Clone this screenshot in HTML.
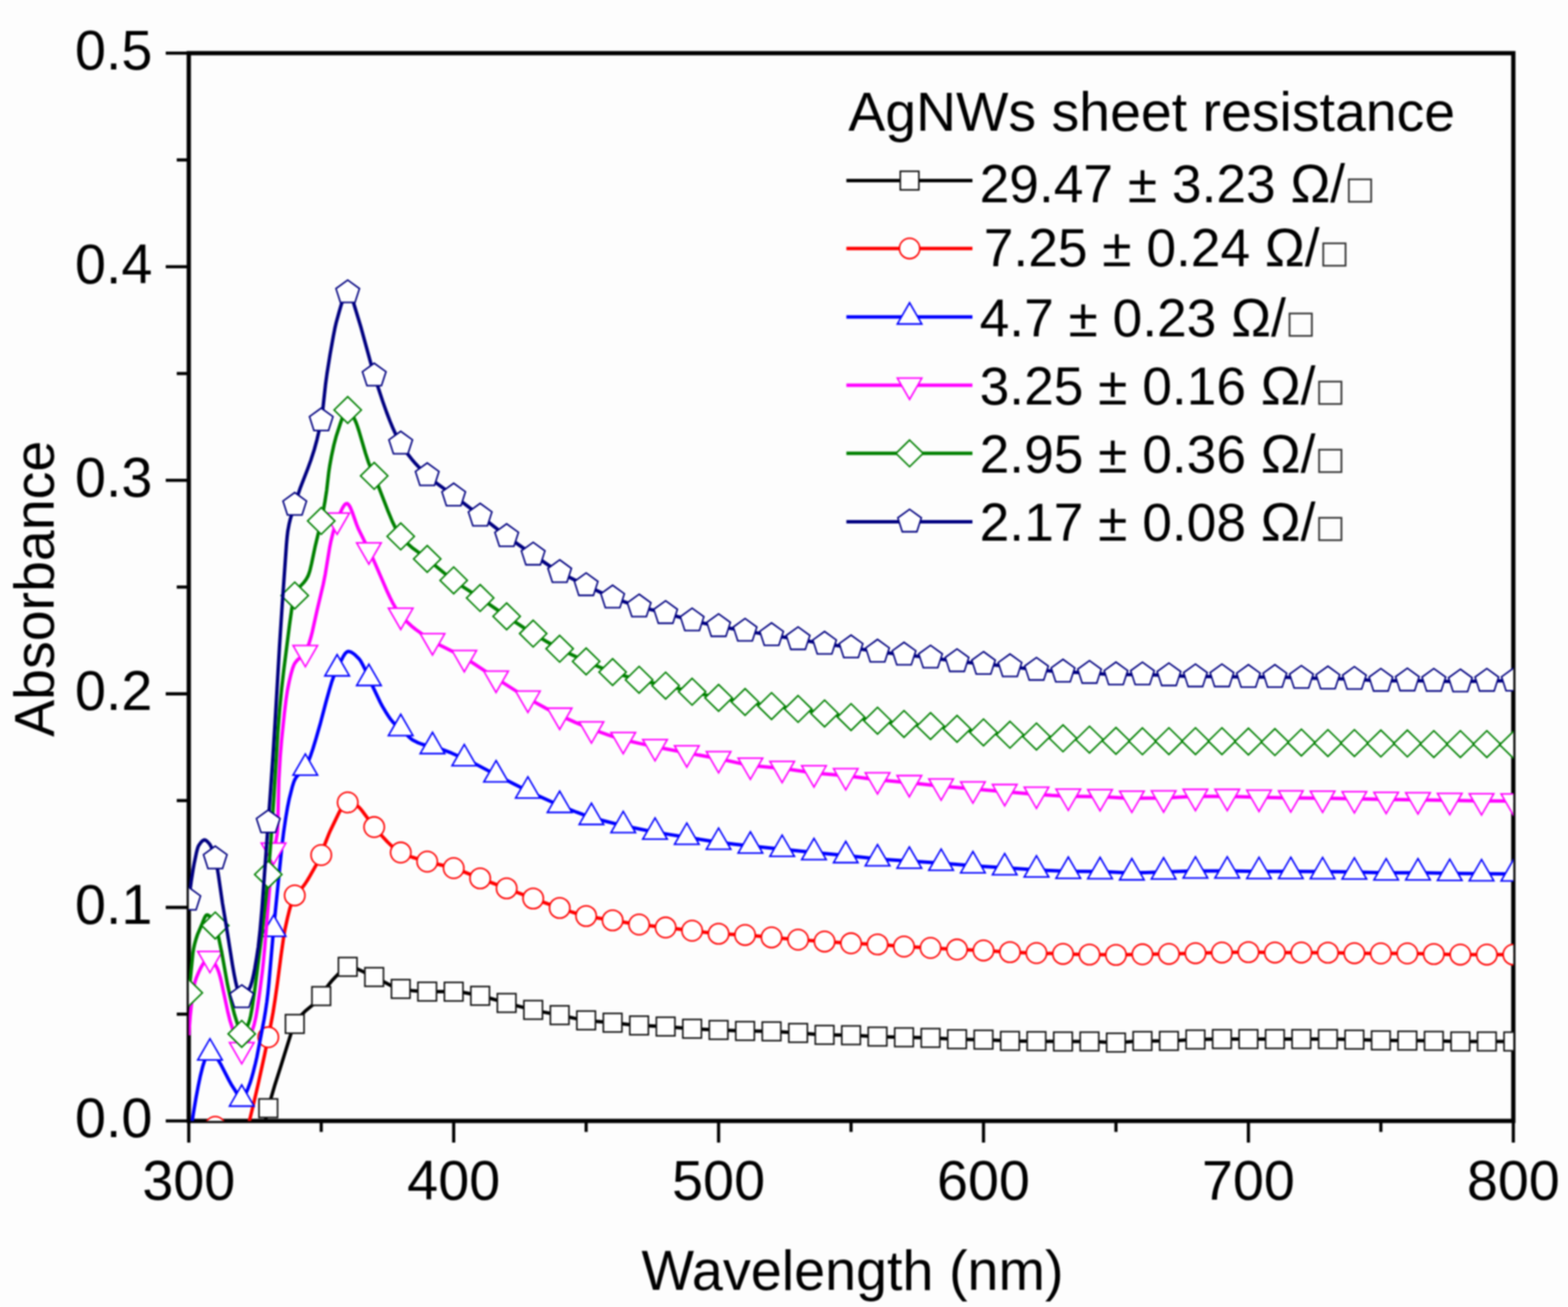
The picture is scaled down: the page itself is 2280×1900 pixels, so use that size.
<!DOCTYPE html><html><head><meta charset="utf-8"><style>html,body{margin:0;padding:0;background:#fdfdfd;}svg{display:block;filter:blur(1.15px);}text{font-family:"Liberation Sans",Arial,sans-serif;fill:#000;}</style></head><body>
<svg width="2280" height="1900" viewBox="0 0 2280 1900">
<rect width="2280" height="1900" fill="#fdfdfd"/>
<defs><clipPath id="pc"><rect x="274.5" y="77.3" width="1926.0" height="1552.2"/></clipPath></defs>
<g stroke="#000" stroke-width="6.2" fill="none" stroke-linecap="square">
<rect x="274.5" y="77.3" width="1926.0" height="1552.2"/>
</g>
<g stroke="#000" stroke-width="4.6" fill="none">
<path d="M241.0 1629.5H274.5"/>
<path d="M241.0 1319.1H274.5"/>
<path d="M241.0 1008.6H274.5"/>
<path d="M241.0 698.2H274.5"/>
<path d="M241.0 387.7H274.5"/>
<path d="M241.0 77.3H274.5"/>
<path d="M257.0 1474.3H274.5"/>
<path d="M257.0 1163.8H274.5"/>
<path d="M257.0 853.4H274.5"/>
<path d="M257.0 543.0H274.5"/>
<path d="M257.0 232.5H274.5"/>
<path d="M274.5 1629.5V1661.0"/>
<path d="M659.7 1629.5V1661.0"/>
<path d="M1044.9 1629.5V1661.0"/>
<path d="M1430.1 1629.5V1661.0"/>
<path d="M1815.3 1629.5V1661.0"/>
<path d="M2200.5 1629.5V1661.0"/>
<path d="M467.1 1629.5V1645.5"/>
<path d="M852.3 1629.5V1645.5"/>
<path d="M1237.5 1629.5V1645.5"/>
<path d="M1622.7 1629.5V1645.5"/>
<path d="M2007.9 1629.5V1645.5"/>
</g>
<g font-size="81">
<text x="221.5" y="1653.3" text-anchor="end">0.0</text>
<text x="221.5" y="1342.9" text-anchor="end">0.1</text>
<text x="221.5" y="1032.4" text-anchor="end">0.2</text>
<text x="221.5" y="722.0" text-anchor="end">0.3</text>
<text x="221.5" y="411.5" text-anchor="end">0.4</text>
<text x="221.5" y="101.1" text-anchor="end">0.5</text>
<text x="274.5" y="1744.3" text-anchor="middle">300</text>
<text x="659.7" y="1744.3" text-anchor="middle">400</text>
<text x="1044.9" y="1744.3" text-anchor="middle">500</text>
<text x="1430.1" y="1744.3" text-anchor="middle">600</text>
<text x="1815.3" y="1744.3" text-anchor="middle">700</text>
<text x="2200.5" y="1744.3" text-anchor="middle">800</text>
</g>
<text x="1239.5" y="1874.6" font-size="81" text-anchor="middle">Wavelength (nm)</text>
<text transform="translate(77.5 856) rotate(-90)" font-size="80.7" text-anchor="middle">Absorbance</text>
<g clip-path="url(#pc)">
<path d="M274.5 1800.0L314.5 1800.0L319.5 1799.7L325.0 1799.0L330.0 1797.9L335.0 1796.6L340.0 1794.9L345.0 1793.0L352.0 1789.7L353.0 1788.8L354.5 1786.6L356.5 1782.2L359.0 1774.6L361.5 1765.1L364.5 1751.3L370.0 1721.6L382.5 1647.5L386.0 1629.1L389.5 1613.2L393.5 1598.2L399.5 1577.8L408.5 1549.5L423.0 1502.9L426.0 1494.1L428.0 1489.5L430.5 1485.4L434.0 1480.4L437.5 1476.2L443.5 1470.2L456.5 1459.3L462.0 1454.0L465.0 1450.6L468.0 1446.8L474.0 1437.0L476.0 1434.0L480.0 1428.9L483.5 1424.7L487.0 1421.0L499.0 1408.8L502.0 1406.6L503.5 1405.9L505.0 1405.5L508.5 1405.7L512.5 1406.3L516.5 1407.5L521.0 1409.2L526.5 1411.7L539.5 1418.2L549.5 1422.8L569.5 1433.2L576.0 1435.9L581.5 1437.4L598.5 1439.9L612.5 1441.2L620.5 1441.5L661.5 1441.6L667.5 1442.0L674.0 1442.8L684.5 1444.8L706.5 1449.5L733.5 1457.1L754.5 1462.8L773.5 1467.7L787.0 1470.6L815.5 1476.0L841.5 1481.6L849.5 1482.9L857.5 1483.9L890.5 1486.7L917.5 1489.7L928.5 1490.6L969.0 1492.4L1003.0 1495.3L1026.5 1496.5L1076.0 1498.5L1119.0 1499.2L1131.5 1499.7L1162.5 1501.7L1185.0 1503.6L1195.0 1504.3L1240.5 1505.0L1275.5 1506.9L1353.5 1508.8L1390.0 1510.7L1432.0 1511.4L1458.5 1512.8L1467.5 1513.2L1540.5 1514.0L1586.5 1514.0L1595.0 1514.3L1614.0 1515.4L1623.5 1515.6L1632.5 1515.2L1649.5 1513.8L1657.0 1513.4L1703.5 1513.1L1711.5 1512.8L1734.0 1511.3L1758.5 1510.7L1776.0 1510.5L1931.5 1510.5L1950.5 1510.8L2004.5 1512.3L2084.5 1513.1L2118.5 1514.0L2200.5 1514.0" fill="none" stroke="#000000" stroke-width="5.0" stroke-linejoin="round"/>
<g fill="#fff" stroke="#111111" stroke-width="2.3">
<rect x="261.0" y="1786.5" width="27.0" height="27.0"/>
<rect x="299.5" y="1786.5" width="27.0" height="27.0"/>
<rect x="338.0" y="1776.5" width="27.0" height="27.0"/>
<rect x="376.6" y="1597.5" width="27.0" height="27.0"/>
<rect x="415.1" y="1475.0" width="27.0" height="27.0"/>
<rect x="453.6" y="1434.5" width="27.0" height="27.0"/>
<rect x="492.1" y="1392.0" width="27.0" height="27.0"/>
<rect x="530.6" y="1406.8" width="27.0" height="27.0"/>
<rect x="569.2" y="1424.1" width="27.0" height="27.0"/>
<rect x="607.7" y="1428.0" width="27.0" height="27.0"/>
<rect x="646.2" y="1428.1" width="27.0" height="27.0"/>
<rect x="684.7" y="1434.1" width="27.0" height="27.0"/>
<rect x="723.2" y="1444.5" width="27.0" height="27.0"/>
<rect x="761.8" y="1454.6" width="27.0" height="27.0"/>
<rect x="800.3" y="1462.2" width="27.0" height="27.0"/>
<rect x="838.8" y="1469.8" width="27.0" height="27.0"/>
<rect x="877.3" y="1473.2" width="27.0" height="27.0"/>
<rect x="915.8" y="1477.2" width="27.0" height="27.0"/>
<rect x="954.4" y="1478.8" width="27.0" height="27.0"/>
<rect x="992.9" y="1482.0" width="27.0" height="27.0"/>
<rect x="1031.4" y="1483.8" width="27.0" height="27.0"/>
<rect x="1069.9" y="1485.2" width="27.0" height="27.0"/>
<rect x="1108.4" y="1485.8" width="27.0" height="27.0"/>
<rect x="1147.0" y="1488.1" width="27.0" height="27.0"/>
<rect x="1185.5" y="1490.9" width="27.0" height="27.0"/>
<rect x="1224.0" y="1491.4" width="27.0" height="27.0"/>
<rect x="1262.5" y="1493.4" width="27.0" height="27.0"/>
<rect x="1301.0" y="1494.4" width="27.0" height="27.0"/>
<rect x="1339.6" y="1495.3" width="27.0" height="27.0"/>
<rect x="1378.1" y="1497.2" width="27.0" height="27.0"/>
<rect x="1416.6" y="1497.8" width="27.0" height="27.0"/>
<rect x="1455.1" y="1499.7" width="27.0" height="27.0"/>
<rect x="1493.6" y="1500.0" width="27.0" height="27.0"/>
<rect x="1532.2" y="1500.5" width="27.0" height="27.0"/>
<rect x="1570.7" y="1500.5" width="27.0" height="27.0"/>
<rect x="1609.2" y="1502.1" width="27.0" height="27.0"/>
<rect x="1647.7" y="1499.8" width="27.0" height="27.0"/>
<rect x="1686.2" y="1499.7" width="27.0" height="27.0"/>
<rect x="1724.8" y="1497.6" width="27.0" height="27.0"/>
<rect x="1763.3" y="1497.0" width="27.0" height="27.0"/>
<rect x="1801.8" y="1497.0" width="27.0" height="27.0"/>
<rect x="1840.3" y="1497.0" width="27.0" height="27.0"/>
<rect x="1878.8" y="1497.0" width="27.0" height="27.0"/>
<rect x="1917.4" y="1497.0" width="27.0" height="27.0"/>
<rect x="1955.9" y="1497.8" width="27.0" height="27.0"/>
<rect x="1994.4" y="1498.9" width="27.0" height="27.0"/>
<rect x="2032.9" y="1499.2" width="27.0" height="27.0"/>
<rect x="2071.4" y="1499.6" width="27.0" height="27.0"/>
<rect x="2110.0" y="1500.5" width="27.0" height="27.0"/>
<rect x="2148.5" y="1500.5" width="27.0" height="27.0"/>
<rect x="2187.0" y="1500.5" width="27.0" height="27.0"/>
</g>
<path d="M274.5 1650.0L278.5 1646.8L283.0 1643.9L287.5 1641.8L292.0 1640.2L297.0 1639.1L302.5 1638.4L311.0 1638.0L313.5 1638.0L315.0 1638.2L317.0 1639.0L319.0 1640.1L321.0 1641.6L323.5 1643.8L328.0 1648.8L338.5 1661.5L341.5 1664.6L344.0 1666.8L347.5 1669.0L349.0 1669.6L350.5 1669.9L352.0 1669.9L352.5 1669.5L353.5 1667.8L355.0 1663.7L356.5 1658.0L362.0 1632.2L369.0 1603.5L375.5 1575.5L384.5 1534.4L393.5 1490.9L397.0 1472.0L400.0 1453.0L403.5 1428.4L408.5 1390.0L413.0 1358.5L414.5 1350.4L418.0 1334.5L420.5 1324.3L423.0 1315.5L426.0 1306.9L428.5 1301.8L430.0 1299.7L432.0 1297.4L439.0 1290.9L443.5 1285.0L447.0 1279.6L450.5 1273.8L462.5 1252.5L465.5 1246.6L467.5 1242.0L472.0 1228.0L478.0 1212.8L481.0 1206.1L492.0 1183.3L496.0 1175.8L499.0 1171.2L500.5 1169.4L502.0 1168.0L503.5 1167.0L505.0 1166.5L506.5 1166.5L508.5 1166.8L512.5 1168.1L518.5 1171.1L520.5 1172.3L522.0 1173.5L524.0 1175.6L526.0 1178.0L543.5 1201.5L556.0 1215.9L563.5 1224.0L570.5 1230.7L576.5 1235.5L582.0 1239.0L589.5 1242.5L599.0 1246.0L611.5 1249.8L627.5 1254.2L653.5 1260.3L659.5 1261.9L665.0 1263.7L674.5 1267.3L697.5 1276.6L774.5 1305.8L805.5 1317.1L829.0 1325.0L838.5 1328.0L849.5 1331.0L861.0 1333.3L890.0 1337.8L917.0 1342.2L929.5 1344.0L970.0 1348.6L1038.0 1356.8L1050.0 1357.7L1076.5 1358.8L1088.0 1359.5L1136.5 1364.0L1167.5 1366.5L1232.5 1371.0L1279.0 1373.1L1308.0 1375.5L1319.5 1376.3L1353.5 1378.0L1388.0 1380.1L1430.5 1381.7L1465.0 1383.9L1489.0 1384.9L1563.5 1387.2L1619.0 1388.1L1632.0 1388.0L1660.0 1387.3L1701.0 1386.7L1771.5 1384.8L1815.0 1384.1L1850.5 1384.7L1932.0 1384.9L1965.5 1385.6L1991.0 1385.9L2051.5 1386.0L2118.5 1387.7L2200.5 1387.7" fill="none" stroke="#ff0000" stroke-width="5.0" stroke-linejoin="round"/>
<g fill="#fff" stroke="#ff0000" stroke-width="2.3">
<circle cx="274.5" cy="1650.0" r="14.8"/>
<circle cx="313.0" cy="1638.0" r="14.8"/>
<circle cx="351.5" cy="1670.0" r="14.8"/>
<circle cx="390.1" cy="1507.8" r="14.8"/>
<circle cx="428.6" cy="1301.7" r="14.8"/>
<circle cx="467.1" cy="1243.0" r="14.8"/>
<circle cx="505.6" cy="1166.5" r="14.8"/>
<circle cx="544.1" cy="1202.3" r="14.8"/>
<circle cx="582.7" cy="1239.3" r="14.8"/>
<circle cx="621.2" cy="1252.5" r="14.8"/>
<circle cx="659.7" cy="1262.0" r="14.8"/>
<circle cx="698.2" cy="1276.9" r="14.8"/>
<circle cx="736.7" cy="1291.4" r="14.8"/>
<circle cx="775.3" cy="1306.1" r="14.8"/>
<circle cx="813.8" cy="1319.9" r="14.8"/>
<circle cx="852.3" cy="1331.6" r="14.8"/>
<circle cx="890.8" cy="1337.9" r="14.8"/>
<circle cx="929.3" cy="1344.0" r="14.8"/>
<circle cx="967.9" cy="1348.3" r="14.8"/>
<circle cx="1006.4" cy="1353.0" r="14.8"/>
<circle cx="1044.9" cy="1357.4" r="14.8"/>
<circle cx="1083.4" cy="1359.2" r="14.8"/>
<circle cx="1121.9" cy="1362.7" r="14.8"/>
<circle cx="1160.5" cy="1366.0" r="14.8"/>
<circle cx="1199.0" cy="1368.7" r="14.8"/>
<circle cx="1237.5" cy="1371.3" r="14.8"/>
<circle cx="1276.0" cy="1372.9" r="14.8"/>
<circle cx="1314.5" cy="1376.0" r="14.8"/>
<circle cx="1353.1" cy="1378.0" r="14.8"/>
<circle cx="1391.6" cy="1380.3" r="14.8"/>
<circle cx="1430.1" cy="1381.7" r="14.8"/>
<circle cx="1468.6" cy="1384.1" r="14.8"/>
<circle cx="1507.1" cy="1385.5" r="14.8"/>
<circle cx="1545.7" cy="1386.7" r="14.8"/>
<circle cx="1584.2" cy="1387.6" r="14.8"/>
<circle cx="1622.7" cy="1388.1" r="14.8"/>
<circle cx="1661.2" cy="1387.3" r="14.8"/>
<circle cx="1699.7" cy="1386.7" r="14.8"/>
<circle cx="1738.3" cy="1385.7" r="14.8"/>
<circle cx="1776.8" cy="1384.7" r="14.8"/>
<circle cx="1815.3" cy="1384.1" r="14.8"/>
<circle cx="1853.8" cy="1384.7" r="14.8"/>
<circle cx="1892.3" cy="1384.7" r="14.8"/>
<circle cx="1930.9" cy="1384.9" r="14.8"/>
<circle cx="1969.4" cy="1385.7" r="14.8"/>
<circle cx="2007.9" cy="1386.0" r="14.8"/>
<circle cx="2046.4" cy="1386.0" r="14.8"/>
<circle cx="2084.9" cy="1386.9" r="14.8"/>
<circle cx="2123.5" cy="1387.7" r="14.8"/>
<circle cx="2162.0" cy="1387.7" r="14.8"/>
<circle cx="2200.5" cy="1387.7" r="14.8"/>
</g>
<path d="M277.0 1645.0L281.5 1616.6L285.0 1596.0L288.5 1577.4L291.5 1563.3L294.5 1551.3L297.5 1541.8L299.0 1538.0L300.5 1535.0L302.0 1532.7L303.0 1531.6L304.0 1530.9L305.0 1530.6L306.5 1530.7L308.5 1531.4L310.0 1532.4L312.0 1534.1L315.5 1538.3L318.5 1542.9L321.5 1548.1L333.0 1570.5L337.0 1577.7L342.0 1585.4L347.0 1593.8L348.5 1595.8L350.0 1597.2L351.5 1597.7L352.5 1597.4L353.5 1596.6L355.0 1594.5L357.0 1590.6L360.5 1582.7L363.5 1574.7L365.5 1568.3L368.0 1559.3L371.5 1545.5L373.5 1536.7L384.0 1482.0L386.0 1470.1L388.0 1456.5L389.5 1444.2L391.0 1429.2L398.0 1348.5L410.0 1229.2L412.5 1209.3L415.5 1188.8L418.0 1174.1L420.5 1161.7L425.0 1143.8L427.0 1137.4L428.5 1133.7L430.5 1130.3L432.5 1127.8L434.5 1125.8L440.5 1120.8L442.5 1118.6L444.0 1116.6L446.5 1111.7L451.0 1100.2L455.0 1088.5L459.5 1073.7L465.5 1052.8L474.0 1020.5L479.0 1002.6L482.5 990.9L485.5 982.6L489.0 974.6L499.0 954.5L501.0 951.3L502.5 949.3L504.5 947.6L506.0 947.0L507.5 947.1L509.5 947.6L511.5 948.5L514.0 950.2L517.0 952.7L521.5 957.1L523.0 958.9L524.5 961.1L527.5 966.4L531.5 974.5L538.0 989.7L553.0 1021.1L556.0 1026.7L560.5 1034.3L564.5 1040.6L567.5 1045.0L570.5 1048.8L573.5 1052.0L575.5 1053.7L581.0 1057.7L583.5 1059.7L586.5 1062.7L595.0 1071.7L597.5 1073.9L600.0 1075.7L607.0 1079.3L614.0 1082.0L618.5 1083.2L627.0 1084.8L631.0 1085.7L637.5 1087.6L644.0 1089.8L656.5 1094.7L676.0 1103.2L690.5 1110.1L717.0 1124.1L747.5 1139.8L770.5 1151.2L788.5 1159.6L803.5 1166.3L823.0 1174.5L838.5 1180.7L848.5 1184.4L857.5 1187.4L867.5 1190.4L879.0 1193.5L893.5 1197.1L912.0 1201.4L928.0 1204.8L943.5 1207.9L972.0 1212.9L1029.0 1222.0L1048.5 1224.8L1068.0 1227.2L1095.5 1230.3L1181.0 1239.1L1230.5 1243.8L1268.5 1247.7L1288.0 1249.4L1369.0 1254.8L1417.0 1258.7L1462.0 1261.5L1498.5 1264.1L1521.0 1265.3L1550.5 1266.4L1603.0 1267.1L1632.5 1268.4L1644.0 1268.7L1665.0 1268.4L1730.5 1266.2L1786.0 1266.1L1826.5 1266.8L1887.5 1266.8L1946.0 1267.3L1973.5 1267.7L2010.5 1268.8L2067.5 1268.8L2122.5 1269.8L2200.5 1270.4" fill="none" stroke="#0000ff" stroke-width="5.0" stroke-linejoin="round"/>
<g fill="#fff" stroke="#0000ff" stroke-width="2.3">
<path d="M305.3 1510.0L323.2 1540.9L287.5 1540.9Z"/>
<path d="M351.5 1577.1L369.4 1608.0L333.7 1608.0Z"/>
<path d="M397.8 1330.3L415.6 1361.2L379.9 1361.2Z"/>
<path d="M444.0 1096.0L461.8 1126.9L426.1 1126.9Z"/>
<path d="M490.2 951.6L508.1 982.5L472.4 982.5Z"/>
<path d="M536.4 965.6L554.3 996.5L518.6 996.5Z"/>
<path d="M582.7 1038.4L600.5 1069.3L564.8 1069.3Z"/>
<path d="M628.9 1064.6L646.7 1095.5L611.0 1095.5Z"/>
<path d="M675.1 1082.2L692.9 1113.1L657.3 1113.1Z"/>
<path d="M721.3 1105.7L739.2 1136.6L703.5 1136.6Z"/>
<path d="M767.6 1129.2L785.4 1160.1L749.7 1160.1Z"/>
<path d="M813.8 1150.1L831.6 1181.0L795.9 1181.0Z"/>
<path d="M860.0 1167.6L877.8 1198.5L842.2 1198.5Z"/>
<path d="M906.2 1179.5L924.1 1210.4L888.4 1210.4Z"/>
<path d="M952.5 1189.0L970.3 1219.9L934.6 1219.9Z"/>
<path d="M998.7 1196.5L1016.5 1227.4L980.8 1227.4Z"/>
<path d="M1044.9 1203.7L1062.7 1234.6L1027.1 1234.6Z"/>
<path d="M1091.1 1209.2L1109.0 1240.1L1073.3 1240.1Z"/>
<path d="M1137.3 1214.0L1155.2 1244.9L1119.5 1244.9Z"/>
<path d="M1183.6 1218.8L1201.4 1249.7L1165.7 1249.7Z"/>
<path d="M1229.8 1223.1L1247.6 1254.0L1212.0 1254.0Z"/>
<path d="M1276.0 1227.8L1293.9 1258.7L1258.2 1258.7Z"/>
<path d="M1322.2 1231.2L1340.1 1262.1L1304.4 1262.1Z"/>
<path d="M1368.5 1234.2L1386.3 1265.1L1350.6 1265.1Z"/>
<path d="M1414.7 1237.9L1432.5 1268.8L1396.9 1268.8Z"/>
<path d="M1460.9 1240.8L1478.8 1271.7L1443.1 1271.7Z"/>
<path d="M1507.1 1244.0L1525.0 1274.9L1489.3 1274.9Z"/>
<path d="M1553.4 1245.9L1571.2 1276.8L1535.5 1276.8Z"/>
<path d="M1599.6 1246.4L1617.4 1277.3L1581.7 1277.3Z"/>
<path d="M1645.8 1248.1L1663.7 1279.0L1628.0 1279.0Z"/>
<path d="M1692.0 1246.9L1709.9 1277.8L1674.2 1277.8Z"/>
<path d="M1738.3 1245.5L1756.1 1276.4L1720.4 1276.4Z"/>
<path d="M1784.5 1245.5L1802.3 1276.4L1766.6 1276.4Z"/>
<path d="M1830.7 1246.2L1848.5 1277.1L1812.9 1277.1Z"/>
<path d="M1876.9 1246.2L1894.8 1277.1L1859.1 1277.1Z"/>
<path d="M1923.2 1246.5L1941.0 1277.4L1905.3 1277.4Z"/>
<path d="M1969.4 1247.0L1987.2 1277.9L1951.5 1277.9Z"/>
<path d="M2015.6 1248.2L2033.4 1279.1L1997.8 1279.1Z"/>
<path d="M2061.8 1248.2L2079.7 1279.1L2044.0 1279.1Z"/>
<path d="M2108.1 1249.0L2125.9 1279.9L2090.2 1279.9Z"/>
<path d="M2154.3 1249.5L2172.1 1280.4L2136.4 1280.4Z"/>
<path d="M2200.5 1249.8L2218.3 1280.7L2182.7 1280.7Z"/>
</g>
<path d="M274.5 1505.0L276.5 1477.6L278.0 1463.4L281.0 1440.2L282.5 1431.6L283.5 1427.2L285.5 1421.4L289.0 1413.0L292.0 1406.8L294.5 1402.4L297.0 1398.8L299.5 1396.1L302.0 1394.3L304.5 1393.5L306.0 1393.5L307.0 1393.9L308.5 1395.2L310.0 1397.1L312.0 1400.3L315.5 1406.7L316.5 1408.8L318.0 1412.8L320.0 1419.6L322.0 1427.7L331.0 1469.8L334.5 1484.1L344.0 1513.8L346.5 1520.0L348.5 1523.6L349.5 1524.8L350.5 1525.6L351.5 1525.9L352.5 1525.8L353.5 1525.3L355.0 1524.1L357.5 1520.7L360.0 1516.0L363.0 1508.8L366.0 1500.5L369.5 1489.7L372.0 1478.8L374.5 1464.2L377.5 1443.2L381.5 1412.2L383.0 1398.3L385.0 1376.6L392.0 1290.4L395.0 1258.0L396.5 1244.9L398.0 1234.6L399.0 1230.0L401.5 1221.4L403.0 1212.3L403.5 1206.8L404.0 1192.6L405.5 1133.3L407.5 1099.0L409.5 1075.6L413.5 1037.1L416.0 1016.4L418.0 1003.2L420.5 990.8L423.0 980.2L425.5 971.6L427.5 966.4L429.0 963.7L431.5 960.4L434.0 958.1L440.0 953.5L442.0 951.4L443.5 949.4L444.5 947.8L446.0 944.7L449.5 934.8L452.0 926.6L454.0 918.9L461.0 887.4L470.0 849.5L473.0 834.4L479.5 794.9L481.0 787.4L484.0 775.3L486.5 766.6L488.5 760.6L496.0 742.6L498.5 737.7L500.5 734.6L502.5 732.6L504.0 732.0L505.0 732.1L506.5 733.2L508.0 735.2L509.5 738.0L512.0 743.9L518.5 762.4L521.0 768.6L540.0 806.9L546.0 820.4L562.0 857.6L567.0 868.4L571.5 877.3L577.0 886.8L579.5 890.5L582.0 893.7L586.0 898.2L590.0 902.4L598.5 910.2L604.5 915.0L611.5 920.1L619.0 925.2L631.0 932.8L641.5 938.8L666.0 951.0L677.0 957.1L688.5 964.3L717.5 983.5L753.5 1006.5L772.0 1017.6L794.5 1030.0L808.0 1037.0L821.5 1043.4L836.5 1050.1L851.0 1056.1L869.0 1063.0L885.0 1068.6L898.0 1072.8L910.5 1076.2L929.5 1080.6L967.5 1088.5L1001.0 1094.9L1044.5 1102.8L1078.0 1110.1L1086.0 1111.6L1093.0 1112.6L1104.5 1113.9L1136.0 1116.9L1146.5 1118.3L1181.0 1123.2L1193.0 1124.4L1231.0 1127.8L1267.5 1132.6L1280.5 1134.1L1321.5 1137.7L1365.5 1142.4L1396.5 1145.3L1491.5 1153.4L1529.0 1156.2L1552.0 1157.4L1603.0 1158.2L1632.5 1160.0L1643.5 1160.4L1667.0 1160.3L1695.0 1159.9L1704.5 1159.5L1725.5 1158.2L1735.0 1157.8L1787.5 1157.8L1829.0 1159.0L1863.5 1159.7L1933.5 1160.6L2107.5 1163.6L2149.0 1164.2L2200.5 1164.4" fill="none" stroke="#ff00ff" stroke-width="5.0" stroke-linejoin="round"/>
<g fill="#fff" stroke="#ff00ff" stroke-width="2.3">
<path d="M305.3 1414.0L323.2 1383.1L287.5 1383.1Z"/>
<path d="M351.5 1546.5L369.4 1515.6L333.7 1515.6Z"/>
<path d="M397.8 1256.6L415.6 1225.7L379.9 1225.7Z"/>
<path d="M444.0 969.3L461.8 938.4L426.1 938.4Z"/>
<path d="M490.2 776.8L508.1 745.9L472.4 745.9Z"/>
<path d="M536.4 820.1L554.3 789.2L518.6 789.2Z"/>
<path d="M582.7 915.1L600.5 884.2L564.8 884.2Z"/>
<path d="M628.9 952.1L646.7 921.2L611.0 921.2Z"/>
<path d="M675.1 976.6L692.9 945.7L657.3 945.7Z"/>
<path d="M721.3 1006.6L739.2 975.7L703.5 975.7Z"/>
<path d="M767.6 1035.6L785.4 1004.7L749.7 1004.7Z"/>
<path d="M813.8 1060.4L831.6 1029.5L795.9 1029.5Z"/>
<path d="M860.0 1080.2L877.8 1049.3L842.2 1049.3Z"/>
<path d="M906.2 1095.7L924.1 1064.8L888.4 1064.8Z"/>
<path d="M952.5 1106.0L970.3 1075.1L934.6 1075.1Z"/>
<path d="M998.7 1115.1L1016.5 1084.2L980.8 1084.2Z"/>
<path d="M1044.9 1123.5L1062.7 1092.6L1027.1 1092.6Z"/>
<path d="M1091.1 1133.0L1109.0 1102.1L1073.3 1102.1Z"/>
<path d="M1137.3 1137.7L1155.2 1106.8L1119.5 1106.8Z"/>
<path d="M1183.6 1144.1L1201.4 1113.2L1165.7 1113.2Z"/>
<path d="M1229.8 1148.3L1247.6 1117.4L1212.0 1117.4Z"/>
<path d="M1276.0 1154.2L1293.9 1123.3L1258.2 1123.3Z"/>
<path d="M1322.2 1158.4L1340.1 1127.5L1304.4 1127.5Z"/>
<path d="M1368.5 1163.3L1386.3 1132.4L1350.6 1132.4Z"/>
<path d="M1414.7 1167.5L1432.5 1136.6L1396.9 1136.6Z"/>
<path d="M1460.9 1171.4L1478.8 1140.5L1443.1 1140.5Z"/>
<path d="M1507.1 1175.2L1525.0 1144.3L1489.3 1144.3Z"/>
<path d="M1553.4 1178.0L1571.2 1147.1L1535.5 1147.1Z"/>
<path d="M1599.6 1178.7L1617.4 1147.8L1581.7 1147.8Z"/>
<path d="M1645.8 1181.0L1663.7 1150.1L1628.0 1150.1Z"/>
<path d="M1692.0 1180.6L1709.9 1149.7L1674.2 1149.7Z"/>
<path d="M1738.3 1178.4L1756.1 1147.5L1720.4 1147.5Z"/>
<path d="M1784.5 1178.4L1802.3 1147.5L1766.6 1147.5Z"/>
<path d="M1830.7 1179.6L1848.5 1148.7L1812.9 1148.7Z"/>
<path d="M1876.9 1180.5L1894.8 1149.6L1859.1 1149.6Z"/>
<path d="M1923.2 1181.0L1941.0 1150.1L1905.3 1150.1Z"/>
<path d="M1969.4 1181.8L1987.2 1150.9L1951.5 1150.9Z"/>
<path d="M2015.6 1182.7L2033.4 1151.8L1997.8 1151.8Z"/>
<path d="M2061.8 1183.3L2079.7 1152.4L2044.0 1152.4Z"/>
<path d="M2108.1 1184.2L2125.9 1153.3L2090.2 1153.3Z"/>
<path d="M2154.3 1184.8L2172.1 1153.9L2136.4 1153.9Z"/>
<path d="M2200.5 1185.0L2218.3 1154.1L2182.7 1154.1Z"/>
</g>
<path d="M274.5 1443.2L277.0 1420.7L280.5 1385.2L281.5 1379.0L283.0 1372.4L285.0 1365.1L287.0 1359.1L293.0 1345.1L297.0 1335.1L298.5 1332.2L300.0 1330.4L301.0 1330.0L302.5 1330.3L304.0 1331.3L305.5 1332.7L307.0 1334.7L309.0 1337.8L313.5 1346.5L315.5 1352.7L318.0 1363.3L322.5 1384.9L330.5 1429.6L335.0 1450.5L338.0 1463.3L341.0 1474.8L347.0 1494.3L348.5 1498.6L350.0 1501.7L351.0 1502.7L351.5 1502.9L352.5 1502.7L353.5 1502.1L354.5 1501.1L356.5 1498.1L358.5 1494.2L361.5 1487.2L363.0 1482.8L364.5 1476.5L366.5 1465.8L370.5 1438.5L381.5 1351.6L387.0 1302.7L390.5 1266.3L394.0 1221.3L398.0 1163.2L404.0 1064.0L406.5 1032.1L409.5 1001.5L412.5 975.3L421.0 908.1L424.0 886.9L425.5 878.1L427.0 871.0L428.5 865.9L430.0 862.4L432.0 858.5L434.5 854.8L436.5 852.4L442.0 846.6L445.0 842.6L447.0 839.1L448.5 835.9L450.5 830.0L453.0 819.5L458.5 793.3L466.0 762.4L470.0 742.8L472.5 729.0L475.0 712.8L478.0 686.7L479.5 676.8L482.0 663.0L485.5 646.9L489.0 633.7L495.0 615.4L497.5 608.3L499.5 603.4L501.5 599.6L503.5 597.0L505.0 596.1L506.0 596.0L507.0 596.4L508.0 597.2L509.5 599.0L514.5 607.2L517.5 613.6L519.5 619.0L522.0 626.6L531.5 659.0L536.0 672.6L538.5 678.9L548.0 701.1L563.5 741.2L570.5 758.1L575.5 768.4L580.0 776.1L582.0 779.0L585.0 782.6L591.5 789.4L599.0 795.9L618.5 810.3L646.0 833.1L654.0 839.4L661.5 845.0L672.0 852.2L698.0 869.2L730.0 891.4L747.0 902.9L763.0 913.4L776.5 921.9L794.0 932.2L809.5 940.8L825.5 949.0L842.5 957.1L864.5 966.8L880.5 973.3L894.5 978.2L911.0 983.3L923.0 986.6L934.5 989.5L973.0 997.9L1039.5 1013.4L1055.5 1016.3L1083.0 1020.4L1109.5 1024.6L1125.5 1026.8L1151.0 1029.5L1161.5 1030.7L1171.5 1032.3L1193.5 1036.3L1203.0 1037.8L1270.5 1047.0L1300.5 1050.9L1317.5 1052.7L1350.0 1055.2L1371.0 1057.2L1394.5 1059.9L1428.5 1064.5L1445.5 1066.2L1466.5 1067.9L1548.5 1073.5L1612.0 1076.6L1637.0 1077.3L1660.5 1077.6L1698.0 1077.4L1784.5 1077.4L1893.5 1079.4L1924.5 1080.2L1973.0 1080.2L2005.5 1080.8L2049.5 1080.8L2083.0 1081.7L2166.5 1081.7L2181.0 1082.0L2200.5 1082.8" fill="none" stroke="#008000" stroke-width="5.0" stroke-linejoin="round"/>
<g fill="#fff" stroke="#008000" stroke-width="2.3">
<path d="M274.5 1423.8L294.3 1443.2L274.5 1462.6L254.7 1443.2Z"/>
<path d="M313.0 1326.0L332.8 1345.4L313.0 1364.8L293.2 1345.4Z"/>
<path d="M351.5 1483.5L371.3 1502.9L351.5 1522.3L331.7 1502.9Z"/>
<path d="M390.1 1251.8L409.9 1271.2L390.1 1290.6L370.3 1271.2Z"/>
<path d="M428.6 846.3L448.4 865.7L428.6 885.1L408.8 865.7Z"/>
<path d="M467.1 737.9L486.9 757.3L467.1 776.7L447.3 757.3Z"/>
<path d="M505.6 576.6L525.4 596.0L505.6 615.4L485.8 596.0Z"/>
<path d="M544.1 672.4L563.9 691.8L544.1 711.2L524.3 691.8Z"/>
<path d="M582.7 760.4L602.5 779.8L582.7 799.2L562.9 779.8Z"/>
<path d="M621.2 793.1L641.0 812.5L621.2 831.9L601.4 812.5Z"/>
<path d="M659.7 824.3L679.5 843.7L659.7 863.1L639.9 843.7Z"/>
<path d="M698.2 849.9L718.0 869.3L698.2 888.7L678.4 869.3Z"/>
<path d="M736.7 876.6L756.5 896.0L736.7 915.4L716.9 896.0Z"/>
<path d="M775.3 901.7L795.1 921.1L775.3 940.5L755.5 921.1Z"/>
<path d="M813.8 923.7L833.6 943.1L813.8 962.5L794.0 943.1Z"/>
<path d="M852.3 942.1L872.1 961.5L852.3 980.9L832.5 961.5Z"/>
<path d="M890.8 957.6L910.6 977.0L890.8 996.4L871.0 977.0Z"/>
<path d="M929.3 968.8L949.1 988.2L929.3 1007.6L909.5 988.2Z"/>
<path d="M967.9 977.3L987.7 996.7L967.9 1016.1L948.1 996.7Z"/>
<path d="M1006.4 986.2L1026.2 1005.6L1006.4 1025.0L986.6 1005.6Z"/>
<path d="M1044.9 995.1L1064.7 1014.5L1044.9 1033.9L1025.1 1014.5Z"/>
<path d="M1083.4 1001.1L1103.2 1020.5L1083.4 1039.9L1063.6 1020.5Z"/>
<path d="M1121.9 1007.0L1141.7 1026.4L1121.9 1045.8L1102.1 1026.4Z"/>
<path d="M1160.5 1011.2L1180.3 1030.6L1160.5 1050.0L1140.7 1030.6Z"/>
<path d="M1199.0 1017.8L1218.8 1037.2L1199.0 1056.6L1179.2 1037.2Z"/>
<path d="M1237.5 1023.0L1257.3 1042.4L1237.5 1061.8L1217.7 1042.4Z"/>
<path d="M1276.0 1028.3L1295.8 1047.7L1276.0 1067.1L1256.2 1047.7Z"/>
<path d="M1314.5 1033.0L1334.3 1052.4L1314.5 1071.8L1294.7 1052.4Z"/>
<path d="M1353.1 1036.1L1372.9 1055.5L1353.1 1074.9L1333.3 1055.5Z"/>
<path d="M1391.6 1040.1L1411.4 1059.5L1391.6 1078.9L1371.8 1059.5Z"/>
<path d="M1430.1 1045.3L1449.9 1064.7L1430.1 1084.1L1410.3 1064.7Z"/>
<path d="M1468.6 1048.7L1488.4 1068.1L1468.6 1087.5L1448.8 1068.1Z"/>
<path d="M1507.1 1051.3L1526.9 1070.7L1507.1 1090.1L1487.3 1070.7Z"/>
<path d="M1545.7 1053.9L1565.5 1073.3L1545.7 1092.7L1525.9 1073.3Z"/>
<path d="M1584.2 1055.8L1604.0 1075.2L1584.2 1094.6L1564.4 1075.2Z"/>
<path d="M1622.7 1057.6L1642.5 1077.0L1622.7 1096.4L1602.9 1077.0Z"/>
<path d="M1661.2 1058.2L1681.0 1077.6L1661.2 1097.0L1641.4 1077.6Z"/>
<path d="M1699.7 1058.0L1719.5 1077.4L1699.7 1096.8L1679.9 1077.4Z"/>
<path d="M1738.3 1058.0L1758.1 1077.4L1738.3 1096.8L1718.5 1077.4Z"/>
<path d="M1776.8 1058.0L1796.6 1077.4L1776.8 1096.8L1757.0 1077.4Z"/>
<path d="M1815.3 1058.6L1835.1 1078.0L1815.3 1097.4L1795.5 1078.0Z"/>
<path d="M1853.8 1059.4L1873.6 1078.8L1853.8 1098.2L1834.0 1078.8Z"/>
<path d="M1892.3 1060.0L1912.1 1079.4L1892.3 1098.8L1872.5 1079.4Z"/>
<path d="M1930.9 1060.8L1950.7 1080.2L1930.9 1099.6L1911.1 1080.2Z"/>
<path d="M1969.4 1060.8L1989.2 1080.2L1969.4 1099.6L1949.6 1080.2Z"/>
<path d="M2007.9 1061.4L2027.7 1080.8L2007.9 1100.2L1988.1 1080.8Z"/>
<path d="M2046.4 1061.4L2066.2 1080.8L2046.4 1100.2L2026.6 1080.8Z"/>
<path d="M2084.9 1062.3L2104.7 1081.7L2084.9 1101.1L2065.1 1081.7Z"/>
<path d="M2123.5 1062.3L2143.3 1081.7L2123.5 1101.1L2103.7 1081.7Z"/>
<path d="M2162.0 1062.3L2181.8 1081.7L2162.0 1101.1L2142.2 1081.7Z"/>
<path d="M2200.5 1063.4L2220.3 1082.8L2200.5 1102.2L2180.7 1082.8Z"/>
</g>
<path d="M274.5 1308.0L278.0 1281.4L281.0 1262.5L282.5 1254.4L285.5 1240.2L287.0 1234.2L288.0 1231.1L289.0 1229.0L292.5 1224.1L294.5 1222.2L296.5 1221.1L298.0 1221.1L300.0 1222.0L302.0 1223.8L304.5 1226.6L305.5 1228.1L307.0 1230.9L310.0 1238.4L313.0 1247.9L315.0 1256.6L317.5 1271.6L323.5 1313.1L328.5 1342.6L338.0 1402.6L340.5 1416.6L342.5 1426.6L344.5 1435.1L346.0 1440.4L348.0 1445.8L349.0 1447.7L350.0 1449.0L351.0 1449.7L351.5 1449.8L352.5 1449.7L354.0 1449.0L355.5 1447.8L357.5 1445.5L359.5 1442.6L362.0 1438.3L363.5 1435.5L364.5 1433.0L366.5 1426.5L368.5 1417.9L370.5 1407.7L373.0 1393.0L375.5 1376.5L378.0 1354.4L381.0 1320.1L393.0 1155.5L397.0 1097.6L400.0 1050.2L406.5 938.2L410.5 876.8L416.5 791.8L417.5 780.4L418.5 772.0L420.5 761.3L422.5 753.2L427.5 737.6L431.5 724.3L437.0 708.3L447.5 681.3L452.0 669.0L457.0 653.5L461.0 638.8L464.5 623.8L467.5 609.0L469.5 594.0L473.5 557.6L475.5 543.0L480.0 514.9L484.5 489.7L487.0 476.9L489.0 468.3L493.0 454.0L496.0 443.6L498.5 436.1L500.5 431.1L502.0 428.2L503.0 426.8L504.0 425.8L505.5 425.1L506.5 425.3L507.5 426.0L508.5 427.2L509.5 428.8L511.5 433.1L514.0 440.1L525.0 476.3L544.0 545.6L556.5 583.5L562.0 599.0L567.0 612.1L571.0 621.7L575.0 630.6L578.5 637.6L582.0 643.9L587.0 651.8L592.5 659.6L598.5 667.3L604.5 674.3L612.0 682.2L621.5 691.3L627.5 696.6L634.5 702.2L659.0 720.0L698.0 749.5L725.5 771.0L737.5 780.1L758.0 794.6L800.5 823.6L812.0 830.8L823.5 837.0L833.5 842.0L873.0 860.9L882.0 865.0L890.0 868.4L901.5 872.7L913.0 876.7L924.0 880.2L934.0 883.1L966.5 891.0L999.5 900.3L1017.0 904.6L1034.0 908.2L1052.0 911.7L1113.0 922.1L1161.0 929.5L1197.0 935.7L1238.0 941.3L1265.5 945.9L1276.0 947.5L1347.5 955.4L1359.5 956.9L1384.5 960.5L1397.5 962.1L1430.5 965.3L1470.0 968.9L1498.0 972.9L1508.5 974.0L1535.5 975.9L1585.5 978.5L1607.5 979.9L1617.0 980.4L1669.5 980.7L1734.0 983.4L1779.0 983.4L1811.5 984.2L1860.5 984.3L1901.5 985.8L1971.0 987.2L1979.0 987.7L1997.5 989.5L2005.5 989.9L2041.0 989.4L2054.0 989.4L2086.5 989.9L2112.5 990.7L2124.0 990.8L2160.5 989.9L2200.5 989.5" fill="none" stroke="#000080" stroke-width="5.0" stroke-linejoin="round"/>
<g fill="#fff" stroke="#000080" stroke-width="2.3">
<path d="M274.5 1290.0L291.6 1302.4L285.1 1322.6L263.9 1322.6L257.4 1302.4Z"/>
<path d="M313.0 1230.0L330.1 1242.4L323.6 1262.6L302.4 1262.6L295.9 1242.4Z"/>
<path d="M351.5 1431.8L368.7 1444.2L362.1 1464.4L341.0 1464.4L334.4 1444.2Z"/>
<path d="M390.1 1177.5L407.2 1189.9L400.6 1210.1L379.5 1210.1L372.9 1189.9Z"/>
<path d="M428.6 716.0L445.7 728.4L439.2 748.6L418.0 748.6L411.5 728.4Z"/>
<path d="M467.1 593.2L484.2 605.6L477.7 625.8L456.5 625.8L450.0 605.6Z"/>
<path d="M505.6 407.1L522.7 419.5L516.2 439.7L495.0 439.7L488.5 419.5Z"/>
<path d="M544.1 528.0L561.3 540.4L554.7 560.6L533.6 560.6L527.0 540.4Z"/>
<path d="M582.7 627.0L599.8 639.4L593.2 659.6L572.1 659.6L565.5 639.4Z"/>
<path d="M621.2 673.0L638.3 685.4L631.8 705.6L610.6 705.6L604.1 685.4Z"/>
<path d="M659.7 702.5L676.8 714.9L670.3 735.1L649.1 735.1L642.6 714.9Z"/>
<path d="M698.2 731.7L715.3 744.1L708.8 764.3L687.6 764.3L681.1 744.1Z"/>
<path d="M736.7 761.5L753.9 773.9L747.3 794.1L726.2 794.1L719.6 773.9Z"/>
<path d="M775.3 788.4L792.4 800.8L785.8 821.0L764.7 821.0L758.1 800.8Z"/>
<path d="M813.8 813.8L830.9 826.2L824.4 846.4L803.2 846.4L796.7 826.2Z"/>
<path d="M852.3 832.9L869.4 845.3L862.9 865.5L841.7 865.5L835.2 845.3Z"/>
<path d="M890.8 850.7L907.9 863.1L901.4 883.3L880.2 883.3L873.7 863.1Z"/>
<path d="M929.3 863.8L946.5 876.2L939.9 896.4L918.8 896.4L912.2 876.2Z"/>
<path d="M967.9 873.4L985.0 885.8L978.4 906.0L957.3 906.0L950.7 885.8Z"/>
<path d="M1006.4 884.1L1023.5 896.5L1017.0 916.7L995.8 916.7L989.3 896.5Z"/>
<path d="M1044.9 892.4L1062.0 904.8L1055.5 925.0L1034.3 925.0L1027.8 904.8Z"/>
<path d="M1083.4 899.1L1100.5 911.5L1094.0 931.7L1072.8 931.7L1066.3 911.5Z"/>
<path d="M1121.9 905.5L1139.1 917.9L1132.5 938.1L1111.4 938.1L1104.8 917.9Z"/>
<path d="M1160.5 911.4L1177.6 923.8L1171.0 944.0L1149.9 944.0L1143.3 923.8Z"/>
<path d="M1199.0 918.0L1216.1 930.4L1209.6 950.6L1188.4 950.6L1181.9 930.4Z"/>
<path d="M1237.5 923.2L1254.6 935.6L1248.1 955.8L1226.9 955.8L1220.4 935.6Z"/>
<path d="M1276.0 929.5L1293.1 941.9L1286.6 962.1L1265.4 962.1L1258.9 941.9Z"/>
<path d="M1314.5 933.7L1331.7 946.1L1325.1 966.3L1304.0 966.3L1297.4 946.1Z"/>
<path d="M1353.1 938.1L1370.2 950.5L1363.6 970.7L1342.5 970.7L1335.9 950.5Z"/>
<path d="M1391.6 943.4L1408.7 955.8L1402.2 976.0L1381.0 976.0L1374.5 955.8Z"/>
<path d="M1430.1 947.3L1447.2 959.7L1440.7 979.9L1419.5 979.9L1413.0 959.7Z"/>
<path d="M1468.6 950.7L1485.7 963.1L1479.2 983.3L1458.0 983.3L1451.5 963.1Z"/>
<path d="M1507.1 955.9L1524.3 968.3L1517.7 988.5L1496.6 988.5L1490.0 968.3Z"/>
<path d="M1545.7 958.5L1562.8 970.9L1556.2 991.1L1535.1 991.1L1528.5 970.9Z"/>
<path d="M1584.2 960.4L1601.3 972.8L1594.8 993.0L1573.6 993.0L1567.1 972.8Z"/>
<path d="M1622.7 962.5L1639.8 974.9L1633.3 995.1L1612.1 995.1L1605.6 974.9Z"/>
<path d="M1661.2 962.6L1678.3 975.0L1671.8 995.2L1650.6 995.2L1644.1 975.0Z"/>
<path d="M1699.7 963.9L1716.9 976.3L1710.3 996.5L1689.2 996.5L1682.6 976.3Z"/>
<path d="M1738.3 965.4L1755.4 977.8L1748.8 998.0L1727.7 998.0L1721.1 977.8Z"/>
<path d="M1776.8 965.4L1793.9 977.8L1787.4 998.0L1766.2 998.0L1759.7 977.8Z"/>
<path d="M1815.3 966.2L1832.4 978.6L1825.9 998.8L1804.7 998.8L1798.2 978.6Z"/>
<path d="M1853.8 966.2L1870.9 978.6L1864.4 998.8L1843.2 998.8L1836.7 978.6Z"/>
<path d="M1892.3 967.6L1909.5 980.0L1902.9 1000.2L1881.8 1000.2L1875.2 980.0Z"/>
<path d="M1930.9 968.5L1948.0 980.9L1941.4 1001.1L1920.3 1001.1L1913.7 980.9Z"/>
<path d="M1969.4 969.1L1986.5 981.5L1980.0 1001.7L1958.8 1001.7L1952.3 981.5Z"/>
<path d="M2007.9 971.9L2025.0 984.3L2018.5 1004.5L1997.3 1004.5L1990.8 984.3Z"/>
<path d="M2046.4 971.4L2063.5 983.8L2057.0 1004.0L2035.8 1004.0L2029.3 983.8Z"/>
<path d="M2084.9 971.9L2102.1 984.3L2095.5 1004.5L2074.4 1004.5L2067.8 984.3Z"/>
<path d="M2123.5 972.8L2140.6 985.2L2134.0 1005.4L2112.9 1005.4L2106.3 985.2Z"/>
<path d="M2162.0 971.9L2179.1 984.3L2172.6 1004.5L2151.4 1004.5L2144.9 984.3Z"/>
<path d="M2200.5 971.5L2217.6 983.9L2211.1 1004.1L2189.9 1004.1L2183.4 983.9Z"/>
</g>
</g>
<text x="1233.5" y="189.8" font-size="80.6">AgNWs sheet resistance</text>
<path d="M1230.7 262.5H1414" stroke="#000000" stroke-width="5.0"/>
<g fill="#fff" stroke="#111111" stroke-width="2.3"><rect x="1309.1" y="249.0" width="27.0" height="27.0"/></g>
<text x="1424.5" y="293.6" font-size="77.5">29.47 ± 3.23 Ω/<tspan font-family="DejaVu Sans" font-size="46" fill="#333" dy="-5">□</tspan></text>
<path d="M1230.7 361.2H1414" stroke="#ff0000" stroke-width="5.0"/>
<g fill="#fff" stroke="#ff0000" stroke-width="2.3"><circle cx="1322.6" cy="361.2" r="14.8"/></g>
<text x="1430.5" y="386.9" font-size="77.5">7.25 ± 0.24 Ω/<tspan font-family="DejaVu Sans" font-size="46" fill="#333" dy="-5">□</tspan></text>
<path d="M1230.7 460.7H1414" stroke="#0000ff" stroke-width="5.0"/>
<g fill="#fff" stroke="#0000ff" stroke-width="2.3"><path d="M1322.6 440.1L1340.4 471.0L1304.8 471.0Z"/></g>
<text x="1424.5" y="488.8" font-size="77.5">4.7 ± 0.23 Ω/<tspan font-family="DejaVu Sans" font-size="46" fill="#333" dy="-5">□</tspan></text>
<path d="M1230.7 560.0H1414" stroke="#ff00ff" stroke-width="5.0"/>
<g fill="#fff" stroke="#ff00ff" stroke-width="2.3"><path d="M1322.6 580.6L1340.4 549.7L1304.8 549.7Z"/></g>
<text x="1424.5" y="588.1" font-size="77.5">3.25 ± 0.16 Ω/<tspan font-family="DejaVu Sans" font-size="46" fill="#333" dy="-5">□</tspan></text>
<path d="M1230.7 659.1H1414" stroke="#008000" stroke-width="5.0"/>
<g fill="#fff" stroke="#008000" stroke-width="2.3"><path d="M1322.6 639.7L1342.4 659.1L1322.6 678.5L1302.8 659.1Z"/></g>
<text x="1424.5" y="687.0" font-size="77.5">2.95 ± 0.36 Ω/<tspan font-family="DejaVu Sans" font-size="46" fill="#333" dy="-5">□</tspan></text>
<path d="M1230.7 758.4H1414" stroke="#000080" stroke-width="5.0"/>
<g fill="#fff" stroke="#000080" stroke-width="2.3"><path d="M1322.6 740.4L1339.7 752.8L1333.2 773.0L1312.0 773.0L1305.5 752.8Z"/></g>
<text x="1424.5" y="785.8" font-size="77.5">2.17 ± 0.08 Ω/<tspan font-family="DejaVu Sans" font-size="46" fill="#333" dy="-5">□</tspan></text>
</svg></body></html>
